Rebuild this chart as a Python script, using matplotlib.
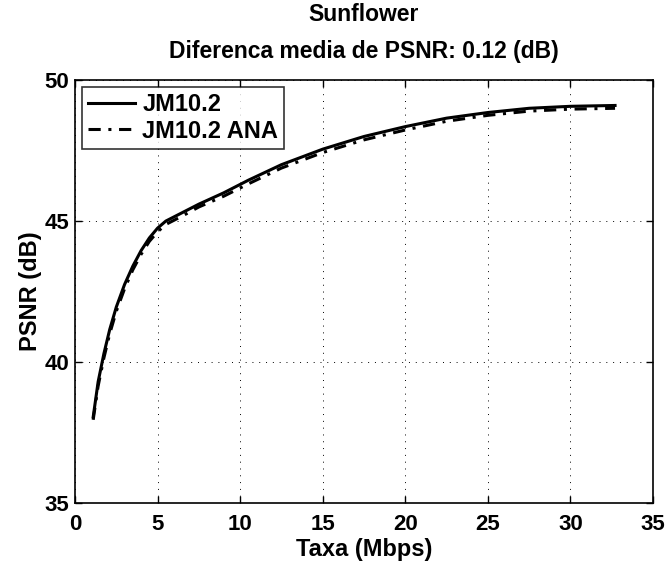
import matplotlib
matplotlib.use("Agg")
import matplotlib.pyplot as plt

plt.rcParams['font.family'] = ['Liberation Sans', 'DejaVu Sans']
plt.rcParams['font.weight'] = 'bold'

# rate (Mbps) and PSNR (dB)
rate_jm = [1.1, 1.4, 1.75, 2.1, 2.5, 3.0, 3.5, 4.0, 4.5, 5.0, 5.5, 6.5, 7.5,
           9.0, 10.5, 12.5, 15.0, 17.5, 20.0, 22.5, 25.0, 27.5, 30.0, 32.7]
psnr_jm = [38.05, 39.3, 40.3, 41.15, 41.95, 42.75, 43.4, 43.95, 44.4, 44.75,
           45.0, 45.3, 45.6, 46.0, 46.45, 47.0, 47.55, 48.0, 48.35, 48.65,
           48.85, 49.0, 49.07, 49.1]
rate_ana = [1.1, 1.4, 1.75, 2.1, 2.5, 3.0, 3.5, 4.0, 4.5, 5.0, 5.5, 6.5, 7.5,
            9.0, 10.5, 12.5, 15.0, 17.5, 20.0, 22.5, 25.0, 27.5, 30.0, 32.7]
psnr_ana = [37.95, 39.15, 40.15, 41.0, 41.8, 42.6, 43.27, 43.82, 44.28, 44.62,
            44.88, 45.18, 45.5, 45.88, 46.32, 46.88, 47.43, 47.88, 48.23, 48.54,
            48.75, 48.9, 48.97, 49.0]
xticks = [0, 5, 10, 15, 20, 25, 30, 35]
yticks = [35, 40, 45, 50]

fig = plt.figure(figsize=(6.68, 5.64), dpi=100)
ax = fig.add_axes([0.1123, 0.1082, 0.8653, 0.7498])

ax.plot(rate_jm, psnr_jm, color='black', linewidth=2.2, linestyle='-', label='JM10.2')
ax.plot(rate_ana, psnr_ana, color='black', linewidth=2.2,
        linestyle=(0, (4, 2.5, 1, 2.5)), label='JM10.2 ANA')

ax.set_xlim(0, 35)
ax.set_ylim(35, 50)
ax.set_xticks(xticks)
ax.set_yticks(yticks)
ax.grid(True, color='black', linestyle=(0, (1, 6)), linewidth=0.7)
ax.tick_params(direction='in', top=True, right=True, length=5, width=1,
               labelsize=16)
ax.tick_params(axis='x', pad=8)
ax.tick_params(axis='y', pad=4)
for sp in ax.spines.values():
    sp.set_linewidth(1.2)

ax.set_xlabel('Taxa (Mbps)', fontsize=17, fontweight='bold', labelpad=2)
ax.set_ylabel('PSNR (dB)', fontsize=17, fontweight='bold', labelpad=2)
ax.set_title('Sunflower\nDiferenca media de PSNR: 0.12 (dB)', fontsize=16.5,
             fontweight='bold', linespacing=1.75, pad=16)

leg = ax.legend(loc='upper left', fontsize=17, frameon=True, fancybox=False,
                edgecolor='black', handlelength=2.0, borderaxespad=0.3,
                labelspacing=0.15, handletextpad=0.3, borderpad=0.25)
leg.get_frame().set_linewidth(1.2)

fig.savefig('out.png', dpi=100)
